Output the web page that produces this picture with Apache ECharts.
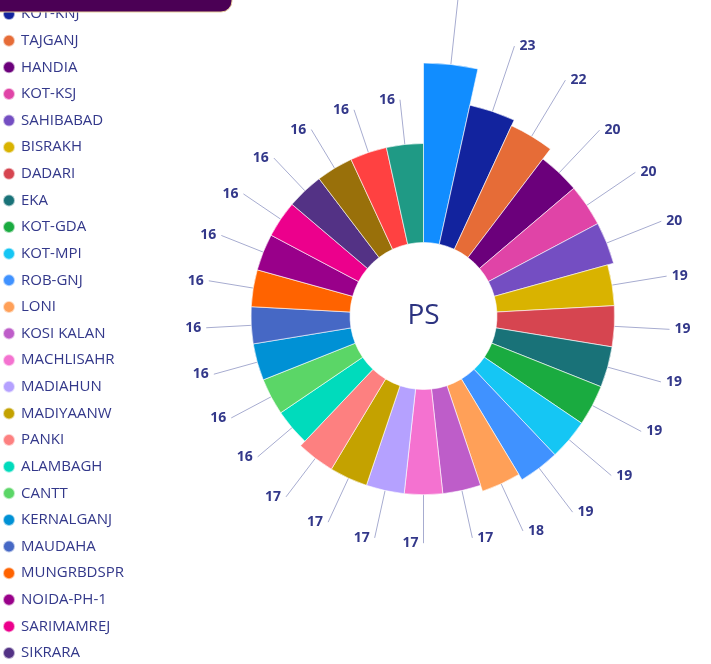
<!DOCTYPE html>
<html>
<head>
<meta charset="utf-8">
<script src="https://cdn.jsdelivr.net/npm/echarts@6/dist/echarts.min.js"></script>
<style>
  html, body { margin: 0; padding: 0; overflow: hidden; background: #fff; }
  #chart { position: absolute; left: 0; top: -50px; width: 711px; height: 900px; }
</style>
</head>
<body>
<div id="chart"></div>
<script>
// chart is drawn in a taller box shifted up, the top strip is cut off like in the source
var OFF = 50;

var stations = ['KOTWALI', 'KOT-KNJ', 'TAJGANJ', 'HANDIA', 'KOT-KSJ', 'SAHIBABAD',
    'BISRAKH', 'DADARI', 'EKA', 'KOT-GDA', 'KOT-MPI', 'ROB-GNJ', 'LONI',
    'KOSI KALAN', 'MACHLISAHR', 'MADIAHUN', 'MADIYAANW', 'PANKI',
    'ALAMBAGH', 'CANTT', 'KERNALGANJ', 'MAUDAHA', 'MUNGRBDSPR', 'NOIDA-PH-1',
    'SARIMAMREJ', 'SIKRARA', 'SURAJPUR', 'TUNDLA', 'VIJAYNAGAR'];
var counts = [29, 23, 22, 20, 20, 20,
    19, 19, 19, 19, 19, 19, 18,
    17, 17, 17, 17, 17,
    16, 16, 16, 16, 16, 16,
    16, 16, 16, 16, 16];
var colors = ['#118DFF', '#12239E', '#E66C37', '#6B007B', '#E044A7', '#744EC2',
    '#D9B300', '#D64550', '#197278', '#1AAB40', '#15C6F4', '#4092FF', '#FFA058',
    '#BE5DC9', '#F472D0', '#B5A1FF', '#C4A200', '#FD8080',
    '#00DBBC', '#5BD667', '#0091D5', '#4668C5', '#FF6300', '#99008A',
    '#EC008C', '#533285', '#99700A', '#FF4141', '#1F9A85'];
var centerText = 'PS';

var textColor = '#33388a';
var R0 = 73.5, R = 253;
var cx = 423.5, cy = OFF + 316;

// leader lines get longer for bigger slices
function lineLen(v) {
    return 64 + 9.6 * v - R;
}

var pieData = stations.map(function (name, i) {
    return {
        name: name,
        value: counts[i],
        itemStyle: { color: colors[i] },
        labelLine: { length: lineLen(counts[i]), length2: 0 }
    };
});

var myChart = echarts.init(document.getElementById('chart'));
var option = {
    animation: false,
    legend: {
        orient: 'vertical',
        left: 2,
        top: OFF - 20,
        padding: 0,
        height: 840,
        icon: 'circle',
        itemWidth: 14,
        itemHeight: 12,
        itemGap: 11.62,
        textStyle: {
            color: textColor,
            fontFamily: 'Open Sans',
            fontSize: 15,
            lineHeight: 14
        },
        data: stations
    },
    graphic: [
        {
            type: 'rect',
            z: 100,
            shape: { x: -20, y: -20, width: 252, height: OFF + 32, r: 11 },
            style: { fill: '#4B0055', stroke: '#E9CF9C', lineWidth: 1 }
        },
        {
            type: 'text',
            z: 100,
            x: cx,
            y: cy,
            style: {
                text: centerText,
                fill: '#2c3380',
                font: '28px "Open Sans"',
                textAlign: 'center',
                textVerticalAlign: 'middle'
            }
        }
    ],
    series: [
        {
            type: 'pie',
            roseType: 'area',
            center: [cx, cy],
            radius: [R0, R],
            startAngle: 90,
            clockwise: true,
            avoidLabelOverlap: false,
            itemStyle: {
                borderColor: 'rgba(255,255,255,0.6)',
                borderWidth: 1
            },
            label: {
                show: true,
                position: 'outside',
                formatter: '{c}',
                color: textColor,
                fontFamily: 'Open Sans',
                fontWeight: 'bold',
                fontSize: 14,
                distanceToLabelLine: 5
            },
            labelLine: {
                show: true,
                lineStyle: { color: '#a7acd0', width: 1 }
            },
            emphasis: { disabled: true },
            data: pieData
        }
    ]
};
option && myChart.setOption(option);
</script>
</body>
</html>
